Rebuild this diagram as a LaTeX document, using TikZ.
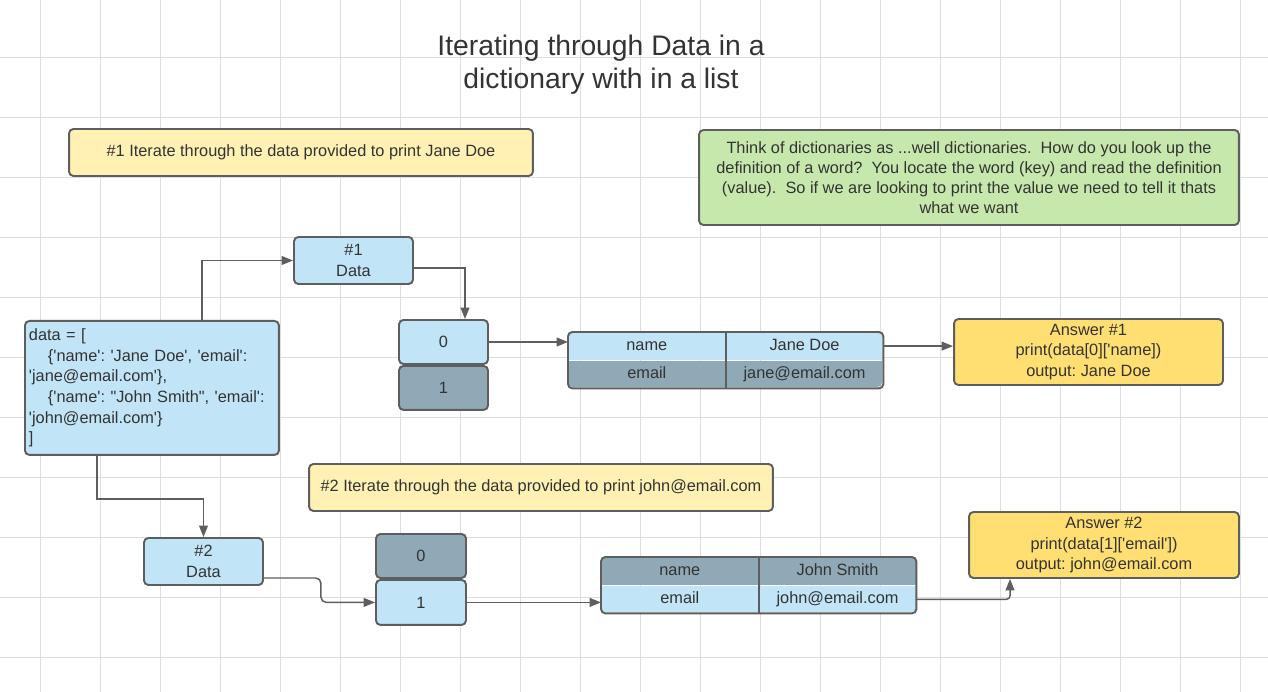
\documentclass[tikz,border=0pt]{standalone}
\usepackage{fontspec}
\setmainfont{Liberation Sans}[Ligatures=TeXOff]
\usetikzlibrary{arrows.meta,positioning}
\newcommand*{\xMax}{1268}
\newcommand*{\yMax}{692}
\definecolor{Grid}{RGB}{222,222,222}
\definecolor{Line}{RGB}{94,94,94}
\definecolor{Txt}{RGB}{51,51,51}
\definecolor{Lb}{RGB}{193,228,247}
\definecolor{Gb}{RGB}{144,169,182}
\definecolor{Gr}{RGB}{199,232,172}
\definecolor{Ly}{RGB}{255,241,179}
\definecolor{Ay}{RGB}{255,223,113}
\frenchspacing
\tikzset{
	box/.style={draw=Line,line width=1.1pt,rounded corners=2.5pt,text=Txt,align=center,inner sep=0pt,font=\fontsize{9.3}{11.7}\selectfont},
	cell/.style={text=Txt,inner sep=0pt,minimum width=3.14cm,minimum height=0.55cm,text height=0.8em,text depth=0.35em,font=\fontsize{9.3}{11.7}\selectfont},
	conn/.style={draw=Line,line width=0.85pt,-{Triangle[length=6.5pt,width=5pt]}}
}

\begin{document}
\begin{tikzpicture}[x=0.02cm,y=-0.02cm]
\useasboundingbox (0,0) rectangle (\xMax,\yMax);
\fill[white] (0,0) rectangle (\xMax,\yMax);

% grid
\foreach \i in {40,100,...,1240} {
	\draw[Grid,line width=0.55pt] (\i,0) -- (\i,\yMax);
}
\foreach \i in {57,117,...,657} {
	\draw[Grid,line width=0.55pt] (0,\i) -- (\xMax,\i);
}

\node[text=Txt,align=center,font=\fontsize{16.1}{18.8}\selectfont] (title) at (601,65) {Iterating through Data in a\\dictionary with in a list};

% notes
\node[box,fill=Ly,minimum width=9.28cm,minimum height=0.94cm] (q1) at (301,152.5) {\#1 Iterate through the data provided to print Jane Doe};
\node[box,fill=Ly,minimum width=9.28cm,minimum height=0.94cm] (q2) at (541,487.5) {\#2 Iterate through the data provided to print john@email.com};
\node[box,fill=Gr,minimum width=10.8cm,minimum height=1.9cm,font=\fontsize{9.3}{11.4}\selectfont] (note) at (969,177.5) {Think of dictionaries as ...well dictionaries.\ \ How do you look up the\\definition of a word?\ \ You locate the word (key) and read the definition\\(value).\ \ So if we are looking to print the value we need to tell it thats\\what we want};

% the list
\node[box,fill=Lb,anchor=north west,align=left,minimum width=5.08cm,minimum height=2.68cm,text width=4.92cm,inner xsep=0.08cm] (data) at (24,320) {data = [\\\hspace*{0.38cm}\{'name': 'Jane Doe', 'email':\\'jane@email.com'\},\\\hspace*{0.38cm}\{'name': "John Smith", 'email':\\'john@email.com'\}\\]};

\node[box,fill=Lb,minimum width=2.38cm,minimum height=0.94cm] (d1) at (353.5,260.5) {\#1\\Data};
\node[box,fill=Lb,minimum width=2.38cm,minimum height=0.94cm] (d2) at (203.5,561.5) {\#2\\Data};

% index boxes
\node[box,fill=Lb,minimum width=1.78cm,minimum height=0.88cm] (z1) at (443.5,342) {0};
\node[box,fill=Gb,minimum width=1.78cm,minimum height=0.88cm,below=0pt of z1] (o1) {1};
\node[box,fill=Gb,minimum width=1.8cm,minimum height=0.88cm] (z2) at (421,556) {0};
\node[box,fill=Lb,minimum width=1.8cm,minimum height=0.9cm,below=0pt of z2] (o2) {1};

% dictionary #1
\begin{scope}
	\clip[rounded corners=2.5pt] (568,332) rectangle (882,387);
	\node[cell,fill=Lb,anchor=north west] (t1a) at (568,332) {name};
	\node[cell,fill=Lb,right=0pt of t1a] (t1b) {Jane Doe};
	\node[cell,fill=Gb,below=0pt of t1a] (t1c) {email};
	\node[cell,fill=Gb,right=0pt of t1c] (t1d) {jane@email.com};
\end{scope}
\draw[Line,line width=1.1pt,rounded corners=2.5pt] (t1a.north west) rectangle (t1d.south east);
\draw[Line,line width=1.1pt] (t1a.north east) -- (t1c.south east);

% dictionary #2
\begin{scope}
	\clip[rounded corners=2.5pt] (601,557) rectangle (916,612);
	\node[cell,fill=Gb,anchor=north west] (t2a) at (601,557) {name};
	\node[cell,fill=Gb,right=0pt of t2a] (t2b) {John Smith};
	\node[cell,fill=Lb,below=0pt of t2a] (t2c) {email};
	\node[cell,fill=Lb,right=0pt of t2c] (t2d) {john@email.com};
\end{scope}
\draw[Line,line width=1.1pt,rounded corners=2.5pt] (t2a.north west) rectangle (t2d.south east);
\draw[Line,line width=1.1pt] (t2a.north east) -- (t2c.south east);

% answers
\node[box,fill=Ay,minimum width=5.38cm,minimum height=1.32cm] (ans1) at (1088.5,352) {Answer \#1\\print(data[0]['name])\\output: Jane Doe};
\node[box,fill=Ay,minimum width=5.4cm,minimum height=1.32cm] (ans2) at (1104,545) {Answer \#2\\print(data[1]['email'])\\output: john@email.com};

% connectors
\draw[conn] ([xshift=1cm]data.north) |- (d1.west);
\draw[conn] ([yshift=-0.15cm]d1.east) -| ([xshift=0.43cm]z1.north);
\draw[conn] (z1.east) -- (z1.east -| t1a.west);
\draw[conn] (t1b.east) -- (t1b.east -| ans1.west);
\draw[conn] ([xshift=-1.1cm]data.south) -- ++(0,43) -| (d2.north);
\draw[conn,rounded corners=3pt] ([yshift=-0.33cm]d2.east) -- ++(57,0) |- (o2.west);
\draw[conn] (o2.east) -- (o2.east -| t2c.west);
\draw[conn,rounded corners=2pt] (t2d.east) -| ([xshift=-1.88cm]ans2.south);
\end{tikzpicture}
\end{document}
